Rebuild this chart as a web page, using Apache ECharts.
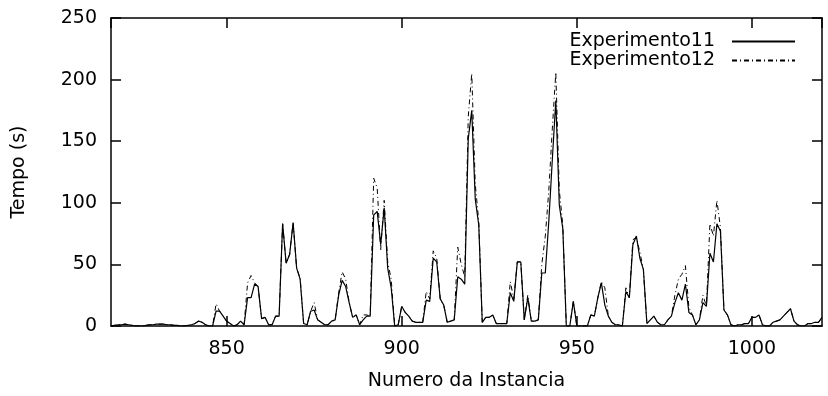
<!DOCTYPE html>
<html>
<head>
<meta charset="utf-8">
<script src="https://cdn.jsdelivr.net/npm/echarts@6/dist/echarts.min.js"></script>
<style>
  html, body { margin: 0; padding: 0; background: #fff; }
  #chart { width: 828px; height: 396px; }
</style>
</head>
<body>
<div id="chart"></div>
<script>
// Instance numbers start here and step by one
const firstInstance = 817;

// Tempo (s) per instance, Experimento11
const exp11 = [
  0, 0.5, 1, 1, 1.5, 1, 0.5, 0, 0, 0,
  0.5, 1, 1, 1.5, 1.5, 1.5, 1, 1, 0.5, 0.5,
  0, 0, 0.5, 1, 2, 4, 3, 1, 0, 0,
  12, 12, 8, 4, 2, 0, 1, 4, 1, 23,
  23, 34, 32, 6, 7, 1, 1, 8, 8, 83,
  51, 58, 84, 47, 38, 2, 1, 12, 13, 5,
  3, 1, 1, 4, 5, 25, 37, 32, 19, 7,
  9, 1, 5, 8, 8, 90, 93, 66, 96, 47,
  31, 0, 1, 16, 11, 8, 4, 3, 3, 3,
  21, 20, 55, 52, 22, 17, 3, 4, 5, 40,
  38, 34, 152, 175, 103, 82, 3, 7, 7, 9,
  2, 2, 2, 2, 27, 20, 52, 52, 5, 23,
  4, 4, 5, 43, 43, 85, 135, 183, 98, 79,
  0, 0, 20, 0, 0, 0, 0, 9, 8, 23,
  35, 17, 8, 3, 1, 1, 0, 28, 23, 66,
  73, 55, 46, 2, 5, 8, 3, 1, 1, 5,
  8, 19, 27, 21, 34, 11, 9, 1, 5, 19,
  16, 59, 52, 83, 77, 13, 9, 1, 0, 1,
  1, 2, 2, 7, 7, 9, 1, 0, 0, 3,
  4, 5, 8, 11, 14, 4, 1, 0, 0, 2,
  2, 3, 3, 7
];

// Tempo (s) per instance, Experimento12
const exp12 = [
  0, 0.5, 1, 1, 1.5, 1, 0.5, 0, 0, 0,
  0.5, 1, 1, 1.5, 1.5, 1.5, 1, 1, 0.5, 0.5,
  0, 0, 0.5, 1, 2, 4, 3, 1, 0, 0,
  18, 12, 8, 4, 2, 0, 1, 4, 1, 35,
  41, 35, 32, 6, 7, 1, 1, 8, 8, 83,
  51, 58, 84, 47, 39, 2, 1, 12, 19, 5,
  3, 1, 1, 4, 5, 27, 44, 38, 19, 7,
  9, 1, 9, 9, 8, 120, 112, 62, 102, 52,
  38, 0, 1, 16, 11, 8, 4, 3, 3, 3,
  28, 22, 61, 55, 22, 17, 3, 4, 5, 64,
  50, 40, 170, 205, 115, 85, 3, 7, 7, 9,
  2, 2, 2, 2, 36, 22, 52, 52, 5, 25,
  4, 4, 5, 50, 73, 110, 160, 206, 110, 82,
  0, 0, 20, 0, 0, 0, 0, 9, 8, 23,
  36, 31, 8, 3, 1, 1, 0, 31, 23, 70,
  72, 60, 46, 2, 5, 8, 3, 1, 1, 5,
  8, 25, 38, 42, 49, 15, 9, 1, 5, 25,
  16, 83, 73, 102, 80, 13, 9, 1, 0, 1,
  1, 2, 2, 7, 7, 9, 1, 0, 0, 3,
  4, 5, 8, 11, 14, 4, 1, 0, 0, 2,
  2, 3, 3, 7
];

const seriesNames = ['Experimento11', 'Experimento12'];
const xRange = [817, 1020];
const yRange = [0, 250];
const yStep = 50;
const xLabelStep = 50;

const toPoints = vals => vals.map((v, i) => [firstInstance + i, v]);

const FONT = 'DejaVu Sans';
const FS = 19;

const frame = { show: true, onZero: false, lineStyle: { color: '#000', width: 1.5 } };
const innerTick = { show: true, inside: true, length: 10, lineStyle: { color: '#000', width: 1.5 } };

const chart = echarts.init(document.getElementById('chart'), null, { renderer: 'canvas' });
chart.setOption({
  animation: false,
  backgroundColor: '#fff',
  textStyle: { fontFamily: FONT },
  grid: { left: 111, right: 6, top: 18, bottom: 70, containLabel: false },
  legend: {
    orient: 'vertical',
    right: 32,
    top: 32,
    padding: 0,
    align: 'right',
    itemWidth: 63,
    itemHeight: 20,
    itemGap: 0,
    data: seriesNames,
    // key samples show only the line, no marker
    itemStyle: { opacity: 0, borderWidth: 0 },
    textStyle: { fontFamily: FONT, fontSize: FS, color: '#000', padding: [0, 12, 0, 0] }
  },
  xAxis: [
    {
      type: 'value', min: xRange[0], max: xRange[1],
      axisLine: frame, axisTick: innerTick, splitLine: { show: false },
      axisLabel: {
        fontFamily: FONT, fontSize: FS, color: '#000', margin: 14,
        showMinLabel: false, showMaxLabel: false,
        formatter: v => (v % xLabelStep === 0 ? String(v) : '')
      },
      name: 'Numero da Instancia', nameLocation: 'middle', nameGap: 46,
      nameTextStyle: { fontFamily: FONT, fontSize: FS, color: '#000' }
    },
    {
      type: 'value', position: 'top', min: xRange[0], max: xRange[1],
      axisLine: frame, axisTick: innerTick, splitLine: { show: false },
      axisLabel: { show: false }
    }
  ],
  yAxis: [
    {
      type: 'value', min: yRange[0], max: yRange[1], interval: yStep,
      axisLine: frame, axisTick: innerTick, splitLine: { show: false },
      axisLabel: { fontFamily: FONT, fontSize: FS, color: '#000', margin: 14 },
      name: 'Tempo (s)', nameLocation: 'middle', nameGap: 82,
      nameTextStyle: { fontFamily: FONT, fontSize: FS, color: '#000' }
    },
    {
      type: 'value', position: 'right', min: yRange[0], max: yRange[1], interval: yStep,
      axisLine: frame, axisTick: innerTick, splitLine: { show: false },
      axisLabel: { show: false }
    }
  ],
  series: [
    {
      name: seriesNames[1], type: 'line', xAxisIndex: 0, yAxisIndex: 0,
      data: toPoints(exp12), symbol: 'none', z: 2,
      lineStyle: { color: '#000', width: 1, type: [5, 3, 1, 3] },
      itemStyle: { color: '#000' }
    },
    {
      name: seriesNames[0], type: 'line', xAxisIndex: 0, yAxisIndex: 0,
      data: toPoints(exp11), symbol: 'none', z: 3,
      lineStyle: { color: '#000', width: 1.2, type: 'solid' },
      itemStyle: { color: '#000' }
    }
  ]
});
</script>
</body>
</html>
